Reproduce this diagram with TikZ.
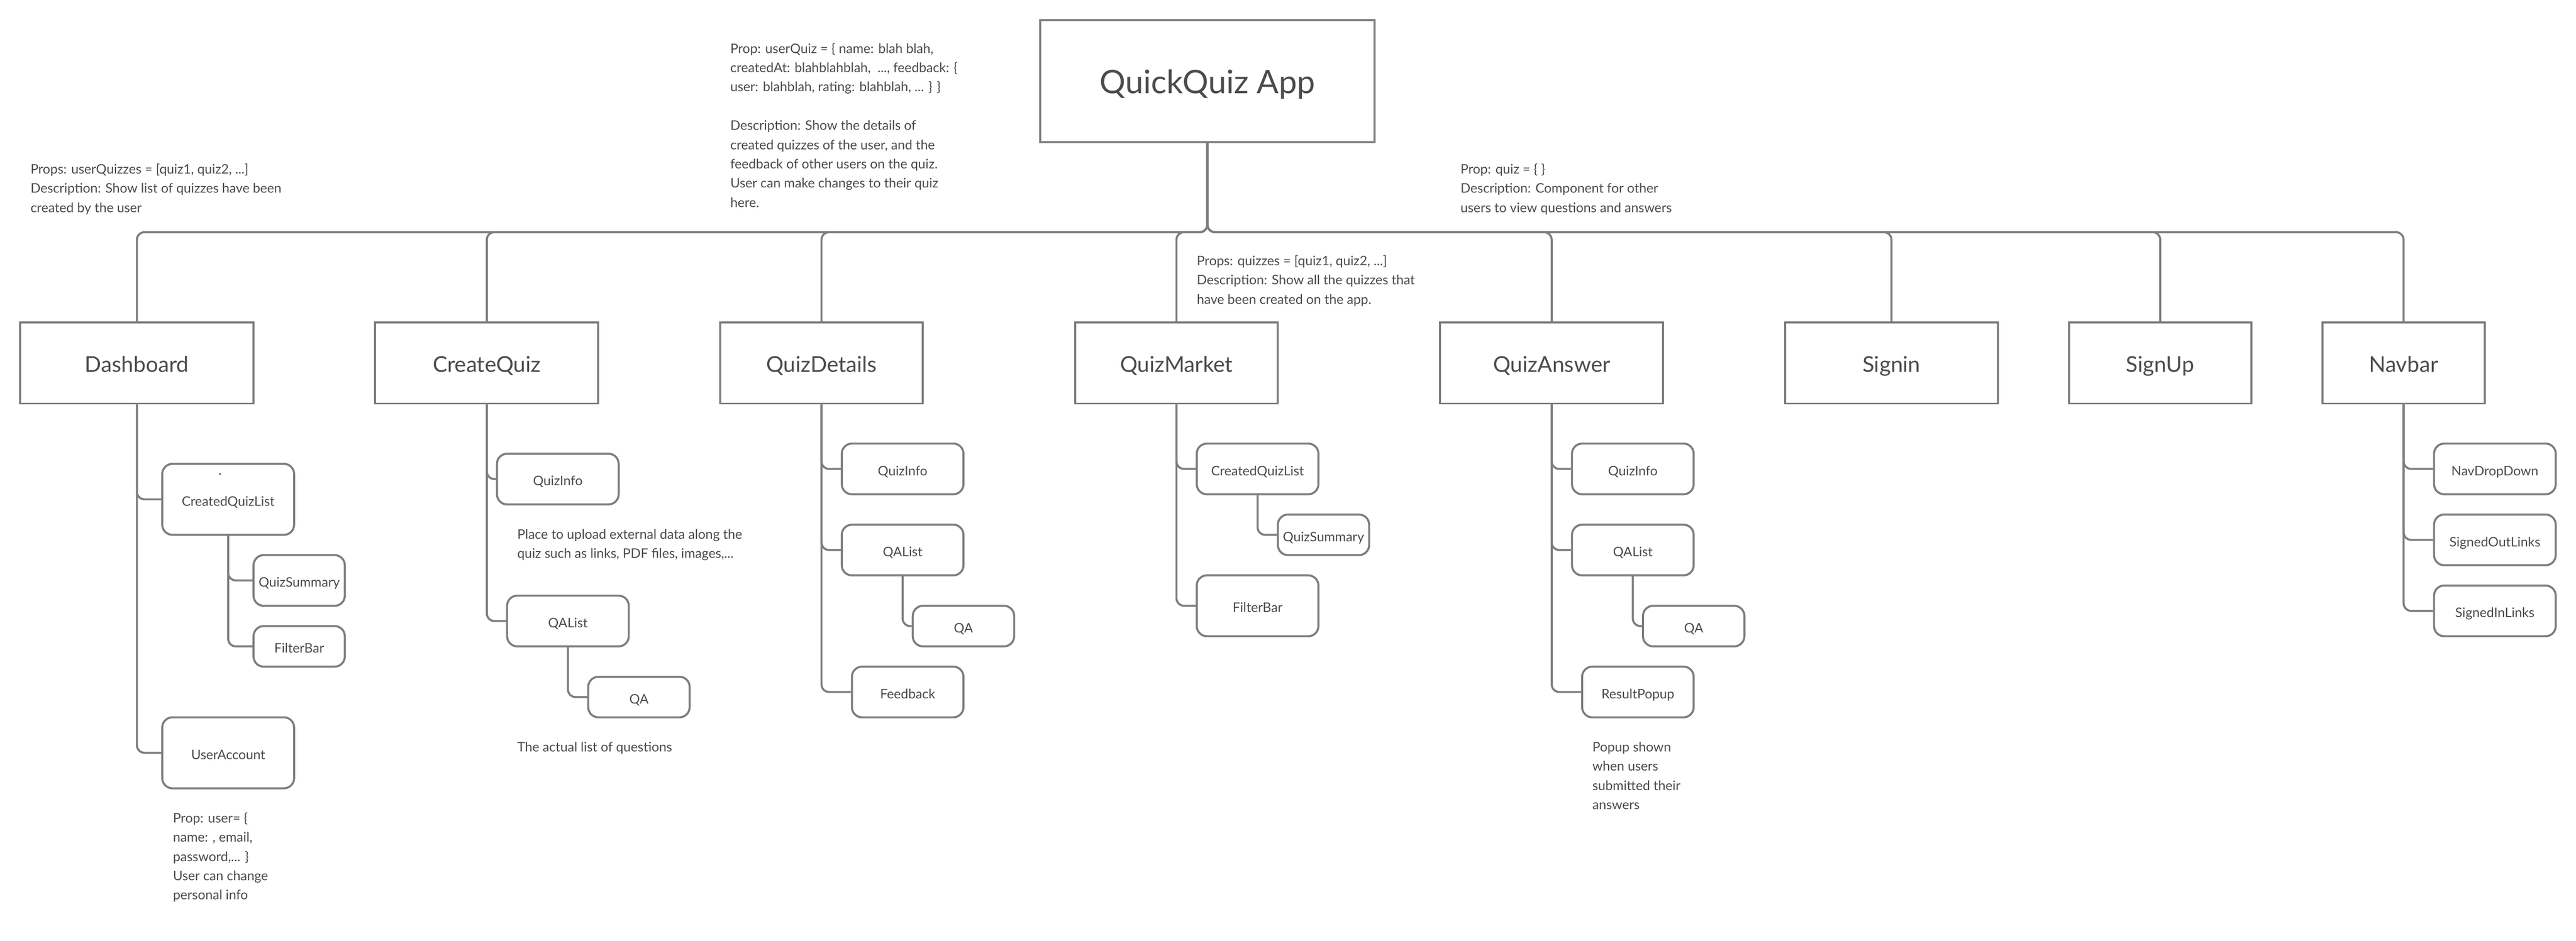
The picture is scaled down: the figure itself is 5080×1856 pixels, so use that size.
\documentclass[tikz,border=0pt]{standalone}
\usepackage{fontspec}
\setmainfont{Lato}
\definecolor{ln}{RGB}{125,125,125}
\definecolor{txt}{RGB}{75,75,75}
\begin{document}
\begin{tikzpicture}[x=1pt,y=-1pt,
  every node/.style={text=txt},
  topbox/.style={draw=ln, line width=4pt, minimum height=160pt, inner sep=0pt, text height=37pt, text depth=0pt, font=\fontsize{43}{50}\selectfont},
  subbox/.style={draw=ln, line width=4pt, rounded corners=20pt, minimum height=100pt, inner sep=0pt, text height=26pt, text depth=0pt, font=\fontsize{26}{32}\selectfont},
  note/.style={anchor=north west, align=left, inner sep=0pt, font=\fontsize{26}{38}\selectfont},
  conn/.style={draw=ln, line width=4pt, rounded corners=15pt}]
\useasboundingbox (0,0) rectangle (5080,1856);
% root
\node[topbox, minimum width=660pt, minimum height=240pt, text height=48pt, font=\fontsize{64}{72}\selectfont] (app) at (2381,160) {QuickQuiz App};
\coordinate (bus) at (2381,458);
% top level
\node[topbox, minimum width=460pt] (dash) at (270,716) {Dashboard};
\node[topbox, minimum width=440pt] (cq) at (960,716) {CreateQuiz};
\node[topbox, minimum width=400pt] (qd) at (1620,716) {QuizDetails};
\node[topbox, minimum width=400pt] (qm) at (2320,716) {QuizMarket};
\node[topbox, minimum width=440pt] (qa) at (3060,716) {QuizAnswer};
\node[topbox, minimum width=420pt] (si) at (3730,716) {Signin};
\node[topbox, minimum width=360pt] (su) at (4260,716) {SignUp};
\node[topbox, minimum width=320pt] (nav) at (4740,716) {Navbar};
\foreach \c in {dash,cq,qd,qm,qa,si,su,nav}{
  \draw[conn] (app.south) -- (bus) -| (\c.north);
}
% Dashboard children
\node[subbox, minimum width=260pt, minimum height=140pt] (dcql) at (450,985) {CreatedQuizList};
\node[subbox, minimum width=180pt] (dqs) at (590,1145) {QuizSummary};
\node[subbox, minimum width=180pt, minimum height=80pt] (dfb) at (590,1275) {FilterBar};
\node[subbox, minimum width=260pt, minimum height=140pt] (dua) at (450,1485) {UserAccount};
\fill[txt] (434,935) circle (2pt);
\draw[conn] (dash.south) |- (dcql.west);
\draw[conn] (dash.south) |- (dua.west);
\draw[conn] (dcql.south) |- (dqs.west);
\draw[conn] (dcql.south) |- (dfb.west);
% CreateQuiz children
\node[subbox, minimum width=240pt] (cqi) at (1100,945) {QuizInfo};
\node[subbox, minimum width=240pt] (cqal) at (1120,1225) {QAList};
\node[subbox, minimum width=200pt, minimum height=80pt] (cqa) at (1260,1375) {QA};
\draw[conn] (cq.south) |- (cqi.west);
\draw[conn] (cq.south) |- (cqal.west);
\draw[conn] (cqal.south) |- (cqa.west);
% QuizDetails children
\node[subbox, minimum width=240pt] (dqi) at (1780,925) {QuizInfo};
\node[subbox, minimum width=240pt] (dqal) at (1780,1085) {QAList};
\node[subbox, minimum width=200pt, minimum height=80pt] (dqa) at (1900,1235) {QA};
\node[subbox, minimum width=220pt] (dfeed) at (1790,1365) {Feedback};
\draw[conn] (qd.south) |- (dqi.west);
\draw[conn] (qd.south) |- (dqal.west);
\draw[conn] (qd.south) |- (dfeed.west);
\draw[conn] (dqal.south) |- (dqa.west);
% QuizMarket children
\node[subbox, minimum width=240pt] (mcql) at (2480,925) {CreatedQuizList};
\node[subbox, minimum width=180pt, minimum height=80pt] (mqs) at (2610,1055) {QuizSummary};
\node[subbox, minimum width=240pt, minimum height=120pt] (mfb) at (2480,1195) {FilterBar};
\draw[conn] (qm.south) |- (mcql.west);
\draw[conn] (qm.south) |- (mfb.west);
\draw[conn] (mcql.south) |- (mqs.west);
% QuizAnswer children
\node[subbox, minimum width=240pt] (aqi) at (3220,925) {QuizInfo};
\node[subbox, minimum width=240pt] (aqal) at (3220,1085) {QAList};
\node[subbox, minimum width=200pt, minimum height=80pt] (aqa) at (3340,1235) {QA};
\node[subbox, minimum width=220pt] (arp) at (3230,1365) {ResultPopup};
\draw[conn] (qa.south) |- (aqi.west);
\draw[conn] (qa.south) |- (aqal.west);
\draw[conn] (qa.south) |- (arp.west);
\draw[conn] (aqal.south) |- (aqa.west);
% Navbar children
\node[subbox, minimum width=240pt] (ndd) at (4920,925) {NavDropDown};
\node[subbox, minimum width=240pt] (nso) at (4920,1065) {SignedOutLinks};
\node[subbox, minimum width=240pt] (nsi) at (4920,1205) {SignedInLinks};
\draw[conn] (nav.south) |- (ndd.west);
\draw[conn] (nav.south) |- (nso.west);
\draw[conn] (nav.south) |- (nsi.west);
% notes
\node[note] (n1) at (60,316) {\strut Props: userQuizzes = [quiz1, quiz2, ...]\\Description: Show list of quizzes have been\\created by the user};
\node[note] (n2) at (1440,78) {\strut Prop: userQuiz = \{ name: blah blah,\\createdAt: blahblahblah,\ \ ..., feedback: \{\\user: blahblah, rating: blahblah, ... \} \}\\[38pt]Description: Show the details of\\created quizzes of the user, and the\\feedback of other users on the quiz.\\User can make changes to their quiz\\here.};
\node[note] (n3) at (2880,316) {\strut Prop: quiz = \{ \}\\Description: Component for other\\users to view questions and answers};
\node[note] (n4) at (2360,497) {\strut Props: quizzes = [quiz1, quiz2, ...]\\Description: Show all the quizzes that\\have been created on the app.};
\node[note] (n5) at (1020,1036) {\strut Place to upload external data along the\\quiz such as links, PDF files, images,...};
\node[note] (n6) at (1020,1456) {\strut The actual list of questions};
\node[note] (n7) at (341,1596) {\strut Prop: user= \{\\name: , email,\\password,... \}\\User can change\\personal info};
\node[note] (n8) at (3140,1456) {\strut Popup shown\\when users\\submitted their\\answers};
\end{tikzpicture}
\end{document}
